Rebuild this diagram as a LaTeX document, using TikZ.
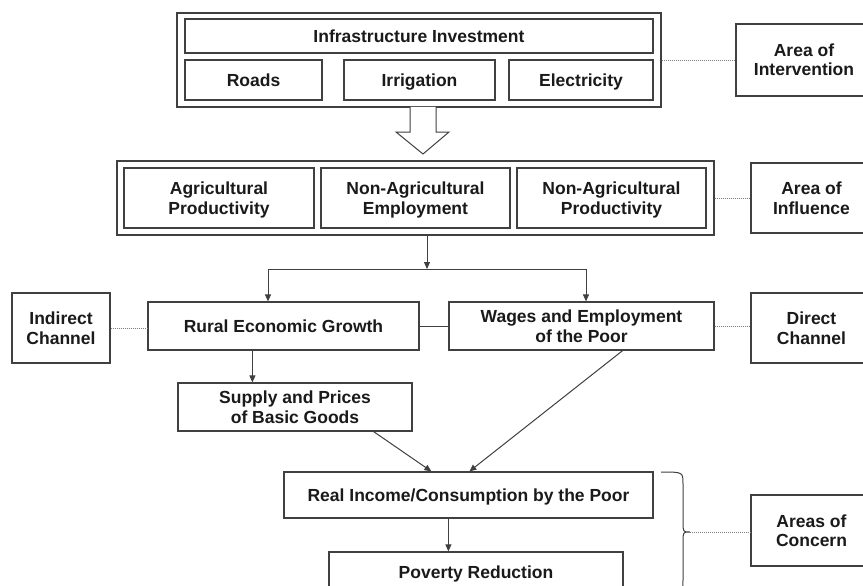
\documentclass[tikz,border=0pt]{standalone}
\usepackage{fontspec}
\setmainfont{Liberation Sans}
\usetikzlibrary{arrows.meta,calc}
\definecolor{edge}{HTML}{404040}
\definecolor{ink}{HTML}{1A1A1A}
\newcommand\twol[2]{\vbox{\halign{\hfil##\hfil\cr#1\cr#2\cr}}}
\begin{document}
\begin{tikzpicture}[x=1pt,y=-1pt,
  bx/.style={draw=edge,line width=1.2pt,fill=white,inner sep=2pt,align=center,
    text=ink,font=\fontsize{17.5}{19.5}\selectfont\bfseries},
  one/.style={bx,text height=14pt,text depth=1.5pt},
  two/.style={bx,text height=33.5pt,text depth=1.5pt},
  arr/.style={draw=edge,line width=1pt,-{Triangle[length=7pt,width=6pt]}},
  ln/.style={draw=edge,line width=1pt},
  dot/.style={draw=gray,line width=0.9pt,dash pattern=on 1.2pt off 0.8pt},
  brc/.style={draw=edge,line width=1pt}]
\useasboundingbox (0,0) rectangle (863,586);
\clip (0,0) rectangle (863,586);
\fill[white] (0,0) rectangle (863,586);

% top group
\node[bx,minimum width=484pt,minimum height=94pt] (outer1) at (419,60) {};
\node[one,minimum width=468pt,minimum height=34pt] (inv) at (419,36) {Infrastructure Investment};
\node[one,minimum width=137pt,minimum height=40pt] (roads) at (253.5,80) {Roads};
\node[one,minimum width=151pt,minimum height=40pt] (irr) at (419.5,80) {Irrigation};
\node[one,minimum width=144pt,minimum height=40pt] (elec) at (581,80) {Electricity};
\node[two,minimum width=136pt,minimum height=72pt] (aint) at (804,60) {\twol{Area of}{Intervention}};
\draw[dot] (outer1.east) -- (aint.west);

% hollow arrow
\draw[edge,line width=1pt,fill=white,line join=miter]
  (410,107) -- (410,132) -- (396,132) -- (423,154) -- (449,132) -- (436,132) -- (436,107);

% second group
\node[bx,minimum width=597pt,minimum height=74pt] (outer2) at (415.5,198) {};
\node[two,minimum width=190pt,minimum height=60pt] (agri) at (219,198) {\twol{Agricultural}{Productivity}};
\node[two,minimum width=189pt,minimum height=60pt] (nae) at (415.5,198) {\twol{Non-Agricultural}{Employment}};
\node[two,minimum width=189pt,minimum height=60pt] (nap) at (611.5,198) {\twol{Non-Agricultural}{Productivity}};
\node[two,minimum width=121pt,minimum height=70pt] (ainf) at (811.5,198) {\twol{Area of}{Influence}};
\draw[dot] (outer2.east) -- (ainf.west);

% channels
\node[one,minimum width=271pt,minimum height=48pt] (rural) at (283.5,326) {Rural Economic Growth};
\node[two,minimum width=265pt,minimum height=48pt] (wages) at (581.5,326) {\twol{Wages and Employment}{of the Poor}};
\node[two,minimum width=98pt,minimum height=70pt] (indirect) at (61,328) {\twol{Indirect}{Channel}};
\node[two,minimum width=121pt,minimum height=70pt] (direct) at (811.5,328) {\twol{Direct}{Channel}};
\draw[dot] (indirect.east) -- (indirect.east -| rural.west);
\draw[dot] (wages.east) -- (wages.east -| direct.west);
\draw[ln] (rural.east) -- (wages.west);

% junction
\coordinate (src) at ($(outer2.south)+(11.5,0)$);
\coordinate (j) at (427,269);
\coordinate (jl) at (268,269);
\coordinate (jr) at (586,269);
\draw[arr] (src) -- (j);
\draw[ln] (jl) -- (jr);
\draw[arr] (jl) -- (jl |- rural.north);
\draw[arr] (jr) -- (jr |- wages.north);

% lower part
\node[two,minimum width=234pt,minimum height=48pt] (supply) at (295,407) {\twol{Supply and Prices}{of Basic Goods}};
\node[one,minimum width=369pt,minimum height=46pt] (real) at (468.5,495) {Real Income/Consumption by the Poor};
\node[one,minimum width=294pt,minimum height=40pt] (poverty) at (476,572) {Poverty Reduction};
\node[two,minimum width=121pt,minimum height=71pt] (aconc) at (811.5,530.5) {\twol{Areas of}{Concern}};

\coordinate (rs) at ($(rural.south west)+(105,0)$);
\draw[arr] (rs) -- (rs |- supply.north);
\draw[arr] ($(supply.south east)+(-39,0)$) -- ($(real.north west)+(148,0)$);
\draw[arr] ($(wages.south east)+(-92,0)$) -- ($(real.north west)+(186,0)$);
\coordinate (rp) at ($(real.south west)+(165,0)$);
\draw[arr] (rp) -- (rp |- poverty.north);

% brace
\coordinate (bt) at (690,532);
\draw[brc] (661,472) .. controls (683,472) .. (683,484) -- (683,522)
  .. controls (683,532) .. (bt) .. controls (683,532) .. (683,542) -- (683,580)
  .. controls (683,592) .. (661,592);
\draw[dot] (bt) -- (bt -| aconc.west);
\end{tikzpicture}
\end{document}
